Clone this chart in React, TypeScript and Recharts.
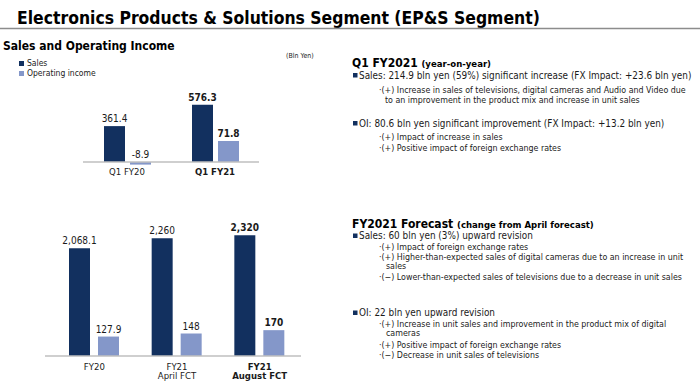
import React from 'react';
import { BarChart, Bar, XAxis, YAxis, LabelList, ReferenceLine, Legend } from 'recharts';

const FONT = "'DejaVu Sans Condensed', 'DejaVu Sans', Tahoma, sans-serif";
const NAVY = '#12305F';
const LIGHT = '#8497C9';
const INK = '#1a1a1a';

// Q1 results, bln yen
const quarterLabels = ['Q1 FY20', 'Q1 FY21'];
const quarterSales = [361.4, 576.3];
const quarterOI = [-8.9, 71.8];

// full year result and forecasts, bln yen
const yearLabels = ['FY20', 'FY21\nApril FCT', 'FY21\nAugust FCT'];
const yearSales = [2068.1, 2260, 2320];
const yearOI = [127.9, 148, 170];

const seriesOrder = ['sales', 'oi'];

const quarterData = quarterLabels.map((name, i) => ({ name, sales: quarterSales[i], oi: quarterOI[i] }));
const yearData = yearLabels.map((name, i) => ({ name, sales: yearSales[i], oi: yearOI[i] }));

const fmt = (v: number) => v.toLocaleString('en-US', { maximumFractionDigits: 1 });

// value label above the bar (above the zero line for negatives), bold for the latest period
const makeLabel = (boldValue: number) => (props: any) => {
  const { x, y, width, height, value } = props;
  const top = Math.min(Number(y), Number(y) + Number(height));
  return (
    <text
      x={Number(x) + Number(width) / 2}
      y={top - 4}
      textAnchor="middle"
      fontSize={10}
      fontFamily={FONT}
      fontWeight={value === boldValue ? 'bold' : 'normal'}
      fill={INK}
    >
      {fmt(Number(value))}
    </text>
  );
};

const makeTick = (boldLabel: string, dy: number) => (props: any) => {
  const { x, y, payload } = props;
  const lines = String(payload.value).split('\n');
  return (
    <text
      x={x}
      y={y + dy}
      textAnchor="middle"
      fontSize={9.5}
      fontFamily={FONT}
      fontWeight={payload.value === boldLabel ? 'bold' : 'normal'}
      fill={INK}
    >
      {lines.map((l, i) => (
        <tspan key={i} x={x} dy={i === 0 ? 0 : 9.5}>
          {l}
        </tspan>
      ))}
    </text>
  );
};

const renderLegend = (props: any) => {
  const items = [...(props.payload || [])].sort(
    (a: any, b: any) => seriesOrder.indexOf(a.dataKey) - seriesOrder.indexOf(b.dataKey)
  );
  return (
    <div style={{ fontFamily: FONT, fontSize: 8.5, color: '#222', lineHeight: '10px' }}>
      {items.map((p: any) => (
        <div key={p.value} style={{ display: 'flex', alignItems: 'center', whiteSpace: 'nowrap' }}>
          <span style={{ width: 5, height: 5, background: p.color, marginRight: 3, display: 'inline-block' }} />
          {p.value}
        </div>
      ))}
    </div>
  );
};

const Bullet = ({ x, y }: { x: number; y: number }) => <rect x={x} y={y - 5.5} width={4.5} height={4.5} fill={NAVY} />;

const MAIN = 9.9;
const SUB = 8.8;

const TextPanel = () => (
  <svg width={700} height={384} style={{ position: 'absolute', left: 0, top: 0, pointerEvents: 'none' }} fontFamily={FONT} fill={INK}>
    <text x={17} y={24} fontSize={17.4} fontWeight="bold" fill="#000">
      Electronics Products &amp; Solutions Segment (EP&amp;S Segment)
    </text>
    <line x1={0} x2={700} y1={28.5} y2={28.5} stroke="#8c8c8c" strokeWidth={1.5} />

    <text x={3} y={50} fontSize={12} fontWeight="bold" fill="#000">Sales and Operating Income</text>
    <text x={286} y={57.5} fontSize={7}>(Bln Yen)</text>

    <text x={352} y={67} fontSize={12} fontWeight="bold" fill="#000">
      Q1 FY2021 <tspan fontSize={9.5}>(year-on-year)</tspan>
    </text>
    <Bullet x={353} y={78.5} />
    <text x={359} y={78.5} fontSize={MAIN}>Sales: 214.9 bln yen (59%) significant increase (FX Impact: +23.6 bln yen)</text>
    <text x={379} y={92.5} fontSize={SUB}>·(+) Increase in sales of televisions, digital cameras and Audio and Video due</text>
    <text x={385} y={102.5} fontSize={SUB}>to an improvement in the product mix and increase in unit sales</text>
    <Bullet x={353} y={126.5} />
    <text x={359} y={126.5} fontSize={MAIN}>OI: 80.6 bln yen significant improvement (FX Impact: +13.2 bln yen)</text>
    <text x={379} y={140} fontSize={SUB}>·(+) Impact of increase in sales</text>
    <text x={379} y={150.5} fontSize={SUB}>·(+) Positive impact of foreign exchange rates</text>

    <text x={352} y={227.5} fontSize={12} fontWeight="bold" fill="#000">
      FY2021 Forecast <tspan fontSize={9.5}>(change from April forecast)</tspan>
    </text>
    <Bullet x={353} y={239} />
    <text x={359} y={239} fontSize={MAIN}>Sales: 60 bln yen (3%) upward revision</text>
    <text x={379} y={249.5} fontSize={SUB}>·(+) Impact of foreign exchange rates</text>
    <text x={379} y={259.5} fontSize={SUB}>·(+) Higher-than-expected sales of digital cameras due to an increase in unit</text>
    <text x={386} y={268.5} fontSize={SUB}>sales</text>
    <text x={379} y={279.5} fontSize={SUB}>·(−) Lower-than-expected sales of televisions due to a decrease in unit sales</text>
    <Bullet x={353} y={316} />
    <text x={359} y={316} fontSize={MAIN}>OI: 22 bln yen upward revision</text>
    <text x={379} y={327} fontSize={SUB}>·(+) Increase in unit sales and improvement in the product mix of digital</text>
    <text x={386} y={336} fontSize={SUB}>cameras</text>
    <text x={379} y={347.5} fontSize={SUB}>·(+) Positive impact of foreign exchange rates</text>
    <text x={379} y={357.5} fontSize={SUB}>·(−) Decrease in unit sales of televisions</text>
  </svg>
);

export default function App() {
  return (
    <div style={{ position: 'absolute', left: 0, top: 0, width: 700, height: 384, background: '#fff', overflow: 'hidden' }}>
      <div style={{ position: 'absolute', left: 0, top: 40 }}>
        <BarChart width={350} height={140} data={quarterData} margin={{ top: 50, right: 91, bottom: 0, left: 83 }} barSize={21} barGap={5}>
          <XAxis dataKey="name" axisLine={false} tickLine={false} tickSize={0} tickMargin={0} height={15} interval={0} tick={makeTick('Q1 FY21', 9.5)} />
          <YAxis yAxisId="s" hide domain={[-3 / 0.0993, 72 / 0.0993]} allowDataOverflow />
          <YAxis yAxisId="o" hide domain={[-3 / 0.2925, 72 / 0.2925]} allowDataOverflow />
          <Legend layout="vertical" align="center" verticalAlign="middle" wrapperStyle={{ left: 19, top: 18, width: 'auto' }} content={renderLegend} />
          <Bar yAxisId="s" dataKey="sales" name="Sales" fill={NAVY} isAnimationActive={false}>
            <LabelList dataKey="sales" content={makeLabel(quarterSales[quarterSales.length - 1])} />
          </Bar>
          <Bar yAxisId="o" dataKey="oi" name="Operating income" fill={LIGHT} isAnimationActive={false}>
            <LabelList dataKey="oi" content={makeLabel(quarterOI[quarterOI.length - 1])} />
          </Bar>
          <ReferenceLine yAxisId="s" y={0} stroke="#BFBFBF" strokeWidth={1.5} />
        </BarChart>
      </div>

      <div style={{ position: 'absolute', left: 0, top: 190 }}>
        <BarChart width={350} height={194} data={yearData} margin={{ top: 10, right: 49, bottom: 0, left: 45 }} barSize={21} barGap={8}>
          <XAxis
            dataKey="name"
            axisLine={{ stroke: '#BFBFBF', strokeWidth: 1.5 }}
            tickLine={false}
            tickSize={0}
            tickMargin={0}
            height={28}
            interval={0}
            padding={{ left: 8, right: 0 }}
            tick={makeTick('FY21\nAugust FCT', 13.5)}
          />
          <YAxis yAxisId="s" hide domain={[0, 156 / 0.0521]} allowDataOverflow />
          <YAxis yAxisId="o" hide domain={[0, 156 / 0.152]} allowDataOverflow />
          <Bar yAxisId="s" dataKey="sales" name="Sales" fill={NAVY} isAnimationActive={false}>
            <LabelList dataKey="sales" content={makeLabel(yearSales[yearSales.length - 1])} />
          </Bar>
          <Bar yAxisId="o" dataKey="oi" name="Operating income" fill={LIGHT} isAnimationActive={false}>
            <LabelList dataKey="oi" content={makeLabel(yearOI[yearOI.length - 1])} />
          </Bar>
        </BarChart>
      </div>

      <TextPanel />
    </div>
  );
}
